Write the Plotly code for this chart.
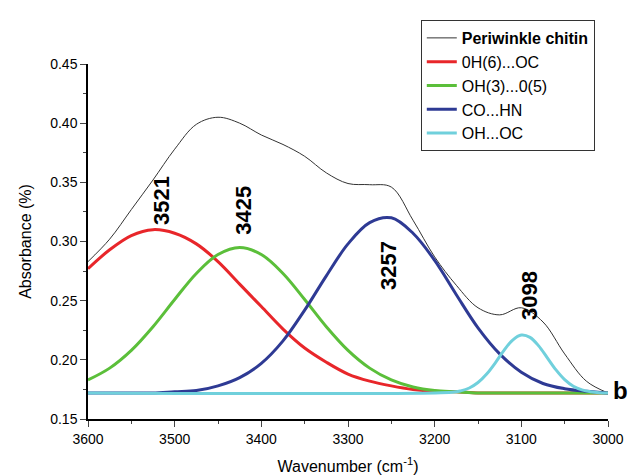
import plotly.graph_objects as go

x25 = [3600,3575,3550,3525,3500,3475,3450,3425,3400,3375,3350,3325,3300,3275,3250,3225,3200,3175,3150,3125,3100,3075,3050,3025,3000]
chitin = [0.283,0.302,0.327,0.352,0.378,0.399,0.405,0.400,0.390,0.382,0.372,0.358,0.349,0.348,0.346,0.318,0.287,0.263,0.244,0.238,0.244,0.232,0.205,0.182,0.172]
red = [0.277,0.293,0.305,0.310,0.307,0.298,0.283,0.264,0.245,0.226,0.210,0.198,0.188,0.182,0.178,0.175,0.1735,0.173,0.172,0.172,0.172,0.172,0.172,0.172,0.172]
green = [0.183,0.193,0.208,0.228,0.251,0.273,0.289,0.295,0.289,0.273,0.251,0.228,0.208,0.193,0.183,0.177,0.174,0.173,0.172,0.172,0.172,0.172,0.172,0.172,0.172]
blue = [0.172,0.172,0.172,0.172,0.173,0.174,0.178,0.185,0.197,0.216,0.242,0.271,0.298,0.316,0.320,0.307,0.284,0.255,0.227,0.205,0.1895,0.180,0.1756,0.1734,0.172]
cyan_x = [3600,3180,3170,3160,3150,3140,3130,3120,3110,3100,3090,3080,3070,3060,3050,3040,3030,3020,3010,3000]
cyan = [0.172,0.1727,0.1738,0.1762,0.1808,0.188,0.1975,0.208,0.2167,0.2209,0.219,0.2118,0.2017,0.1915,0.1833,0.1777,0.1746,0.173,0.1722,0.172]
peak_labels = ["3521","3425","3257","3098"]
peak_x = [3516,3420,3254,3090]
peak_y = [0.335,0.326,0.280,0.254]

fig = go.Figure()
fig.add_trace(go.Scatter(x=x25, y=chitin, mode="lines", line=dict(color="#333333", width=1, shape="spline"), name="<b>Periwinkle chitin</b>"))
fig.add_trace(go.Scatter(x=x25, y=red, mode="lines", line=dict(color="#e8262a", width=3, shape="spline"), name="0H(6)...OC"))
fig.add_trace(go.Scatter(x=x25, y=green, mode="lines", line=dict(color="#5bbf3a", width=3, shape="spline"), name="OH(3)...0(5)"))
fig.add_trace(go.Scatter(x=x25, y=blue, mode="lines", line=dict(color="#2e3a94", width=3, shape="spline"), name="CO...HN"))
fig.add_trace(go.Scatter(x=cyan_x, y=cyan, mode="lines", line=dict(color="#70d0dc", width=3, shape="spline"), name="OH...OC"))

for t, px, py in zip(peak_labels, peak_x, peak_y):
    fig.add_annotation(x=px, y=py, text="<b>%s</b>" % t, textangle=-90, showarrow=False,
                       font=dict(size=22, color="black", family="Liberation Sans"))
fig.add_annotation(x=1.005, y=0.174, xref="paper", yref="y", text="<b>b</b>", showarrow=False,
                   xanchor="left", font=dict(size=24, color="black", family="Liberation Sans"))

fig.update_layout(
    width=640, height=476, margin=dict(l=80, r=40, t=48, b=65),
    paper_bgcolor="white", plot_bgcolor="white",
    font=dict(family="Liberation Sans", size=14, color="black"),
    legend=dict(x=0.64, y=1.124, xanchor="left", yanchor="top", bordercolor="#333", borderwidth=1,
                bgcolor="white", font=dict(size=16), tracegroupgap=0),
    showlegend=True,
)
fig.update_xaxes(range=[3600, 3000], dtick=100, ticks="outside", ticklen=6, showgrid=False,
                 showline=True, linecolor="black", linewidth=1.5, zeroline=False,
                 minor=dict(dtick=50, ticks="outside", ticklen=3),
                 title=dict(text="Wavenumber (cm<sup>-1</sup>)", font=dict(size=16)))
fig.update_yaxes(range=[0.15, 0.45], dtick=0.05, tickformat=".2f", ticks="outside", ticklen=6, showgrid=False,
                 showline=True, linecolor="black", linewidth=1.5, zeroline=False,
                 minor=dict(dtick=0.025, ticks="outside", ticklen=3),
                 title=dict(text="Absorbance (%)", font=dict(size=16)))
fig.write_html("out.html")
